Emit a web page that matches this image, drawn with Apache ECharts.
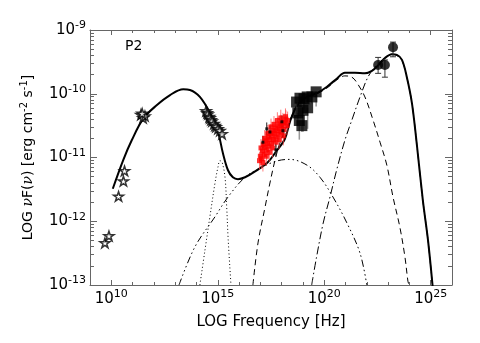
<!DOCTYPE html>
<html>
<head>
<meta charset="utf-8">
<script src="https://cdn.jsdelivr.net/npm/echarts@6/dist/echarts.min.js"></script>
<style>
  html, body { margin: 0; padding: 0; background: #fff; }
  #main { width: 480px; height: 343px; }
</style>
</head>
<body>
<div id="main"></div>
<script>
// all values are log10(nu [Hz]) and log10(nuF(nu) [erg cm^-2 s^-1])

// total model (solid)
var totalModel = [
  [10.07, -11.49], [10.56, -11.04], [10.96, -10.73], [11.50, -10.39], [12.13, -10.18],
  [12.76, -10.02], [13.38, -9.93], [13.69, -9.94], [14.16, -10.05], [14.63, -10.30],
  [15.01, -10.60], [15.24, -10.93], [15.48, -11.20], [15.71, -11.31], [15.95, -11.34],
  [16.28, -11.31], [16.79, -11.21], [17.36, -11.07], [17.73, -10.91], [18.15, -10.71],
  [18.39, -10.44], [18.72, -10.19], [19.19, -10.05], [19.66, -9.99], [20.13, -9.89],
  [20.60, -9.76], [20.97, -9.67], [21.44, -9.67], [21.91, -9.68], [22.24, -9.64],
  [22.52, -9.56], [22.85, -9.44], [23.18, -9.38], [23.41, -9.39], [23.65, -9.47],
  [23.88, -9.74], [24.12, -10.15], [24.35, -10.80], [24.63, -11.67], [24.87, -12.29],
  [25.09, -13.02]
];

// accretion disk (dotted)
var diskModel = [
  [14.16, -13.0], [14.40, -12.45], [14.63, -11.93], [14.87, -11.40], [15.01, -11.15],
  [15.10, -11.05], [15.20, -11.07], [15.34, -11.31], [15.42, -11.78], [15.49, -12.29],
  [15.62, -13.0]
];

// corona (dash-dot-dot-dot)
var coronaModel = [
  [13.18, -13.0], [13.93, -12.40], [14.87, -11.93], [15.48, -11.62], [16.28, -11.31],
  [17.08, -11.15], [17.83, -11.05], [18.39, -11.03], [19.19, -11.12], [19.80, -11.31],
  [20.41, -11.62], [21.07, -12.03], [21.68, -12.50], [22.00, -13.0]
];

// SSC (dashed)
var sscModel = [
  [16.65, -13.0], [16.89, -12.34], [17.22, -11.78], [17.45, -11.40], [17.69, -11.04],
  [17.92, -10.77], [18.39, -10.41], [18.72, -10.19], [19.19, -10.06], [19.66, -10.00],
  [20.13, -9.91], [20.60, -9.78], [20.97, -9.72], [21.30, -9.74], [21.54, -9.83],
  [21.91, -10.05], [22.29, -10.41], [22.62, -10.76], [22.94, -11.12], [23.23, -11.62],
  [23.55, -12.09], [23.79, -12.56], [23.93, -12.94], [23.98, -13.0]
];

// external Compton (dash-dot)
var ecModel = [
  [19.41, -13.0], [19.64, -12.56], [19.95, -12.03], [20.27, -11.62], [20.58, -11.20],
  [20.97, -10.73], [21.30, -10.41], [21.68, -10.05], [22.05, -9.74], [22.38, -9.58],
  [22.62, -9.50], [22.90, -9.42], [23.18, -9.38], [23.41, -9.40], [23.65, -9.48],
  [23.88, -9.74], [24.12, -10.15], [24.35, -10.80], [24.63, -11.67], [24.87, -12.29],
  [25.09, -13.02]
];

// radio / IR / optical archival points (open stars)
var starPoints = [
  [9.70, -12.34], [9.89, -12.23], [10.34, -11.61], [10.57, -11.37], [10.62, -11.21],
  [11.39, -10.33], [11.49, -10.38], [11.58, -10.35], [11.45, -10.31],
  [14.45, -10.27], [14.50, -10.30], [14.54, -10.32], [14.60, -10.36], [14.63, -10.38],
  [14.68, -10.41], [14.73, -10.43], [14.82, -10.47], [14.87, -10.50], [14.92, -10.52],
  [15.01, -10.55], [15.10, -10.58], [15.20, -10.63]
];

// soft X-ray spectrum: [nu, flux, error]
var xrayRed = [
  [16.96, -11.05, 0.14], [17.00, -10.98, 0.15], [17.03, -10.85, 0.14], [17.06, -11.02, 0.16],
  [17.10, -10.90, 0.15], [17.12, -11.08, 0.14], [17.14, -10.80, 0.14], [17.18, -10.95, 0.16],
  [17.20, -10.70, 0.13], [17.22, -10.84, 0.15], [17.26, -10.74, 0.14], [17.28, -10.98, 0.15],
  [17.30, -10.88, 0.16], [17.33, -10.78, 0.15], [17.35, -10.62, 0.13], [17.37, -10.68, 0.14],
  [17.40, -10.82, 0.16], [17.42, -10.92, 0.15], [17.44, -10.72, 0.15], [17.48, -10.62, 0.14],
  [17.50, -10.52, 0.13], [17.52, -10.78, 0.16], [17.55, -10.66, 0.15], [17.57, -10.85, 0.15],
  [17.59, -10.58, 0.14], [17.62, -10.72, 0.16], [17.64, -10.48, 0.13], [17.66, -10.62, 0.15],
  [17.70, -10.54, 0.14], [17.72, -10.76, 0.15], [17.74, -10.68, 0.16], [17.78, -10.58, 0.15],
  [17.80, -10.42, 0.13], [17.82, -10.50, 0.14], [17.86, -10.64, 0.16], [17.88, -10.72, 0.15],
  [17.90, -10.55, 0.15], [17.94, -10.47, 0.14], [17.96, -10.38, 0.13], [17.98, -10.60, 0.16],
  [18.02, -10.50, 0.15], [18.06, -10.44, 0.14], [18.08, -10.66, 0.15], [18.10, -10.56, 0.16],
  [18.15, -10.46, 0.15], [18.18, -10.36, 0.13], [18.20, -10.40, 0.14], [18.25, -10.50, 0.15],
  [18.28, -10.42, 0.14]
];
var xrayBlack = [
  [17.12, -10.76, 0.10], [17.45, -10.60, 0.10], [17.73, -10.88, 0.10],
  [18.01, -10.44, 0.10], [18.06, -10.58, 0.10], [17.30, -10.55, 0.10]
];

// hard X-ray (filled squares): [nu, flux, lower end of error]
var hardXray = [
  [18.70, -10.13, -10.35], [18.86, -10.07, -10.20], [19.05, -10.08, -10.25],
  [19.00, -10.26, -10.60], [18.76, -10.30, -10.50], [18.83, -10.42, -10.72],
  [18.95, -10.50, -10.60], [19.22, -10.22, -10.55], [19.20, -10.05, -10.15],
  [19.42, -10.05, -10.15], [19.62, -9.97, -10.20]
];

// gamma-ray (filled circles): [nu, flux, low, high]
var gammaPoints = [
  [22.53, -9.55, -9.68, -9.43], [22.85, -9.55, -9.74, -9.47], [23.23, -9.27, -9.42, -9.19]
];

var xMajor = [10, 15, 20, 25];
var xMinor = [9, 10, 11, 12, 13, 14, 15, 16, 17, 18, 19, 20, 21, 22, 23, 24, 25, 26];
var yMajor = [-13, -12, -11, -10, -9];
var yMinor = [];
for (var n = -13; n < -9; n++) {
  for (var k = 2; k <= 9; k++) yMinor.push(n + Math.log10(k));
}

var axisColor = '#666';
var fontName = 'DejaVu Sans';
var richLabel = {
  b: { fontSize: 15, color: '#000', fontFamily: fontName },
  s: { fontSize: 11, color: '#000', fontFamily: fontName, padding: [0, 0, 9, 0] }
};
function powLabel(v) {
  return '{b|10}{s|' + Math.round(v) + '}';
}

function tickAxis(pos, ticks, len, showLine, labels) {
  var isX = pos === 'top' || pos === 'bottom';
  var ax = {
    type: 'value',
    position: pos,
    min: isX ? 9 : -13,
    max: isX ? 26 : -9,
    splitLine: { show: false },
    axisLine: { show: showLine, onZero: false, lineStyle: { color: axisColor, width: 1 } },
    axisTick: { show: true, inside: true, length: len, customValues: ticks,
                lineStyle: { color: axisColor, width: 1 } },
    axisLabel: { show: false }
  };
  if (labels) {
    ax.axisLabel = {
      show: true, customValues: labels, margin: isX ? 4 : 4,
      formatter: powLabel, rich: richLabel
    };
  }
  return ax;
}

var xAxes = [
  tickAxis('bottom', xMinor, 3, true, xMajor),
  tickAxis('bottom', xMajor, 5, false),
  tickAxis('top', xMinor, 3, true),
  tickAxis('top', xMajor, 5, false)
];
xAxes[0].name = 'LOG Frequency [Hz]';
xAxes[0].nameLocation = 'middle';
xAxes[0].nameGap = 30;
xAxes[0].nameTextStyle = { fontSize: 15, color: '#000', fontFamily: fontName };

var yAxes = [
  tickAxis('left', yMajor, 7, true, yMajor),
  tickAxis('left', yMinor, 4, false),
  tickAxis('right', yMajor, 7, true),
  tickAxis('right', yMinor, 4, false)
];
yAxes[0].name = 'LOG {i|ν}F({i|ν}) [erg cm{s|-2} s{s|-1}]';
yAxes[0].nameLocation = 'middle';
yAxes[0].nameRotate = 90;
yAxes[0].nameGap = 52;
yAxes[0].nameTextStyle = {
  fontSize: 14, color: '#000', fontFamily: fontName,
  rich: {
    i: { fontSize: 14, fontStyle: 'italic', fontFamily: 'DejaVu Serif', color: '#000' },
    s: { fontSize: 10, color: '#000', fontFamily: fontName, padding: [0, 0, 9, 0] }
  }
};

function modelLine(name, data, type, width) {
  return {
    name: name, type: 'line', data: data, smooth: 0.35, showSymbol: false,
    symbol: 'none', clip: true, z: 3,
    lineStyle: { color: '#000', width: width, type: type }
  };
}

function errorBars(color, width, cap) {
  return function (params, api) {
    var x = api.value(0);
    var a = api.coord([x, api.value(1)]);
    var b = api.coord([x, api.value(2)]);
    var st = { stroke: color, lineWidth: width };
    var kids = [{ type: 'line', shape: { x1: a[0], y1: a[1], x2: b[0], y2: b[1] }, style: st }];
    if (cap) {
      kids.push({ type: 'line', shape: { x1: a[0] - cap, y1: a[1], x2: a[0] + cap, y2: a[1] }, style: st });
      kids.push({ type: 'line', shape: { x1: b[0] - cap, y1: b[1], x2: b[0] + cap, y2: b[1] }, style: st });
    }
    return { type: 'group', children: kids };
  };
}

var starPath = 'path://M50,2 L61,36 L97,36 L68,57 L79,92 L50,71 L21,92 L32,57 L3,36 L39,36 Z';

var chart = echarts.init(document.getElementById('main'), null, { renderer: 'canvas' });
chart.setOption({
  animation: false,
  backgroundColor: '#fff',
  grid: { left: 90, right: 28, top: 30, bottom: 58, containLabel: false, outerBoundsMode: 'none' },
  xAxis: xAxes,
  yAxis: yAxes,
  graphic: [{
    type: 'text', left: 125, top: 39,
    style: { text: 'P2', fontSize: 14, fill: '#000', fontFamily: fontName }
  }],
  series: [
    modelLine('disk', diskModel, [1, 2.5], 1),
    modelLine('corona', coronaModel, [7, 3, 1.5, 3, 1.5, 3, 1.5, 3], 1),
    modelLine('ssc', sscModel, [6, 4], 1),
    modelLine('ec', ecModel, [8, 3, 1.5, 3], 1),
    {
      name: 'xray err', type: 'custom', z: 4,
      renderItem: errorBars('rgba(255,70,70,0.7)', 1, 0),
      data: xrayRed.map(function (d) { return [d[0], d[1] - d[2], d[1] + d[2]]; }),
      encode: { x: 0, y: [1, 2] }
    },
    {
      name: 'xray black err', type: 'custom', z: 4,
      renderItem: errorBars('#222', 1, 0),
      data: xrayBlack.map(function (d) { return [d[0], d[1] - d[2], d[1] + d[2]]; }),
      encode: { x: 0, y: [1, 2] }
    },
    {
      name: 'xray', type: 'scatter', z: 5, symbol: 'rect', symbolSize: 5,
      itemStyle: { color: '#ff0000' },
      data: xrayRed.map(function (d) { return [d[0], d[1]]; })
    },
    {
      name: 'xray black', type: 'scatter', z: 5, symbol: 'rect', symbolSize: 3,
      itemStyle: { color: '#000' },
      data: xrayBlack.map(function (d) { return [d[0], d[1]]; })
    },
    {
      name: 'hard x err', type: 'custom', z: 4,
      renderItem: errorBars('#999', 1.5, 0),
      data: hardXray.map(function (d) { return [d[0], d[2], d[1]]; }),
      encode: { x: 0, y: [1, 2] }
    },
    {
      name: 'hard x', type: 'scatter', z: 5, symbol: 'rect', symbolSize: 11,
      itemStyle: { color: '#000' },
      data: hardXray.map(function (d) { return [d[0], d[1]]; })
    },
    modelLine('total', totalModel, 'solid', 2),
    {
      name: 'gamma err', type: 'custom', z: 6,
      renderItem: errorBars('#333', 1, 3),
      data: gammaPoints.map(function (d) { return [d[0], d[2], d[3]]; }),
      encode: { x: 0, y: [1, 2] }
    },
    {
      name: 'gamma', type: 'scatter', z: 7, symbol: 'circle', symbolSize: 10,
      itemStyle: { color: '#000' },
      data: gammaPoints.map(function (d) { return [d[0], d[1]]; })
    },
    {
      name: 'archival', type: 'scatter', z: 8, symbol: starPath, symbolSize: 10,
      symbolKeepAspect: true,
      itemStyle: { color: '#fff', borderColor: '#000', borderWidth: 1.5 },
      data: starPoints
    }
  ]
});
</script>
</body>
</html>
